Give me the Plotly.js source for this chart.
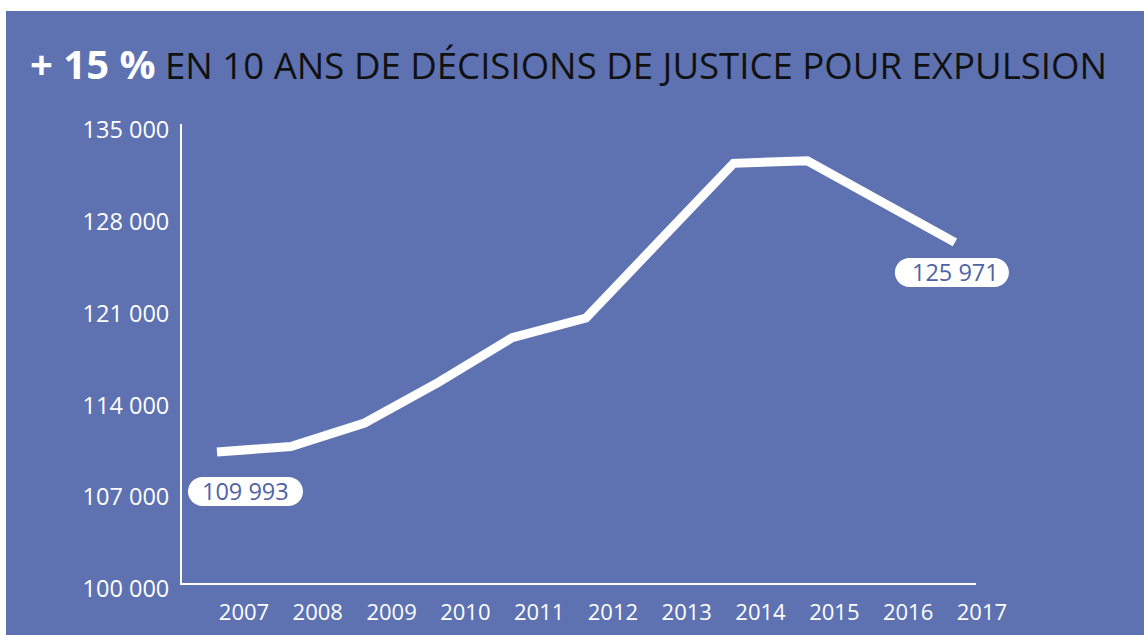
<!DOCTYPE html>
<html>
<head>
<meta charset="utf-8">
<script src="https://cdn.plot.ly/plotly-3.0.1.min.js"></script>
<style>
  html, body { margin: 0; padding: 0; background: #ffffff; }
  #chart { position: absolute; left: 6px; top: 11px; width: 1138px; height: 624px; }
</style>
</head>
<body>
<div id="chart"></div>
<script>
// ---- Data ----
const years = [2007, 2008, 2009, 2010, 2011, 2012, 2013, 2014, 2015, 2016, 2017];
const decisions = [109993, 110400, 112200, 115300, 118700, 120200, 126100, 132000, 132200, 129100, 125971];
const yTicks = [100000, 107000, 114000, 121000, 128000, 135000];
const titleStrong = "+ 15 %";
const titleRest = "EN 10 ANS DE DÉCISIONS DE JUSTICE POUR EXPULSION";

const BLUE = "#5e72b1";
const fmt = v => String(v).replace(/\B(?=(\d{3})+(?!\d))/g, " ");

// rounded "pill" path in pixel units relative to an anchor (y up)
function pill(w, h, cx, cy) {
  const r = h / 2, k = 0.5523 * r;
  const x0 = cx - w / 2 + r, x1 = cx + w / 2 - r;
  const yt = cy + r, yb = cy - r;
  return `M ${x0} ${yt} L ${x1} ${yt} ` +
    `C ${x1 + k} ${yt} ${x1 + r} ${cy + k} ${x1 + r} ${cy} ` +
    `C ${x1 + r} ${cy - k} ${x1 + k} ${yb} ${x1} ${yb} ` +
    `L ${x0} ${yb} ` +
    `C ${x0 - k} ${yb} ${x0 - r} ${cy - k} ${x0 - r} ${cy} ` +
    `C ${x0 - r} ${cy + k} ${x0 - k} ${yt} ${x0} ${yt} Z`;
}

const first = 0, last = years.length - 1;

const trace = {
  x: years,
  y: decisions,
  type: "scatter",
  mode: "lines",
  line: { color: "#ffffff", width: 9 },
  hoverinfo: "skip"
};

const tickFontY = { family: "Open Sans, sans-serif", size: 23.5, color: "#ffffff" };
const tickFontX = { family: "Open Sans, sans-serif", size: 22, color: "#ffffff" };
const labelFont = { family: "Open Sans, sans-serif", size: 23.5, color: "#4f62a6" };

const layout = {
  width: 1138,
  height: 624,
  paper_bgcolor: BLUE,
  plot_bgcolor: BLUE,
  separators: ", ",
  margin: { l: 176, r: 168, t: 113, b: 52, pad: 0 },
  showlegend: false,
  font: { family: "Open Sans, sans-serif", color: "#ffffff", size: 21 },
  title: {
    text: `<b><span style="color:#ffffff;font-size:40px">${titleStrong}</span></b> <span style="color:#111111">${titleRest}</span>`,
    font: { family: "Open Sans, sans-serif", size: 36.6, color: "#111111" },
    x: 24 / 1138, xanchor: "left", xref: "container",
    y: 1 - 55 / 624, yanchor: "middle", yref: "container"
  },
  xaxis: {
    range: [2006.526, 2017.286],
    tickvals: years,
    ticktext: years.map(String),
    ticks: "",
    showgrid: false,
    zeroline: false,
    showline: true,
    linecolor: "#ffffff",
    linewidth: 2,
    ticklabelshift: 27,
    ticklabelstandoff: 9,
    tickfont: tickFontX,
    fixedrange: true
  },
  yaxis: {
    range: [100000, 135000],
    tickvals: yTicks,
    tickformat: ",d",
    ticks: "",
    showgrid: false,
    zeroline: false,
    showline: true,
    linecolor: "#ffffff",
    linewidth: 2,
    ticklabelshift: 6,
    ticklabelstandoff: 6,
    tickfont: tickFontY,
    fixedrange: true
  },
  annotations: [
    {
      x: years[first], y: decisions[first], xref: "x", yref: "y",
      text: fmt(decisions[first]), showarrow: false,
      xshift: 28.5, yshift: -39.5,
      font: labelFont
    },
    {
      x: years[last], y: decisions[last], xref: "x", yref: "y",
      text: fmt(decisions[last]), showarrow: false,
      xshift: 1, yshift: -30,
      font: labelFont
    }
  ]
};

const gd = document.getElementById("chart");
Plotly.newPlot(gd, [trace], layout, { displayModeBar: false, staticPlot: true }).then(() => {
  // place label pills through the library's own axis scales (domain fractions, unclipped)
  const xa = gd._fullLayout.xaxis, ya = gd._fullLayout.yaxis;
  const fx = v => xa.d2p(v) / xa._length;
  const fy = v => 1 - ya.d2p(v) / ya._length;
  const shapes = [
    { i: first, w: 115, h: 29, dx: 28.5, dy: -39.5 },
    { i: last, w: 114, h: 29, dx: -3, dy: -30 }
  ].map(p => ({
    type: "path", xref: "x domain", yref: "y domain",
    xsizemode: "pixel", ysizemode: "pixel",
    xanchor: fx(years[p.i]), yanchor: fy(decisions[p.i]),
    path: pill(p.w, p.h, p.dx, p.dy),
    fillcolor: "#ffffff", line: { width: 0 }, layer: "above"
  }));
  return Plotly.relayout(gd, { shapes: shapes });
});
</script>
</body>
</html>
